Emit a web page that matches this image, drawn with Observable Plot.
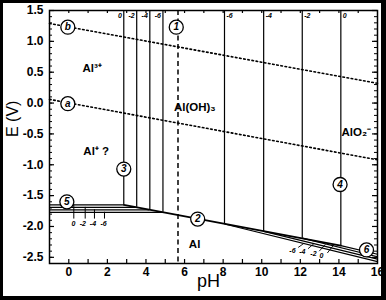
<!DOCTYPE html>
<html><head><meta charset="utf-8">
<script src="https://cdn.jsdelivr.net/npm/d3@7"></script>
<script src="https://cdn.jsdelivr.net/npm/@observablehq/plot@0.6"></script>
<style>
html,body{margin:0;padding:0;background:#fff;}
#wrap{position:relative;width:386px;height:300px;overflow:hidden;}
#wrap::after{content:"";position:absolute;left:0;top:0;right:0;bottom:0;box-sizing:border-box;border-style:solid;border-color:#000;border-width:3px 5px 4px 3px;pointer-events:none;}
svg{display:block;}
</style></head><body><div id="wrap"></div>
<script>
// axes
const pHDomain = [-1, 16];
const EDomain = [-2.6, 1.5];
const xTickValues = [0, 2, 4, 6, 8, 10, 12, 14, 16];
const yTickValues = [-2.5, -2.0, -1.5, -1.0, -0.5, 0.0, 0.5, 1.0, 1.5];
const xMinorValues = d3.range(0, 16, 1);
const yMinorValues = d3.range(-25, 16).map(d => d / 10);

// water stability lines (dotted)
const waterA = [{pH: -1, E: 0.06}, {pH: 16, E: -0.92}];
const waterB = [{pH: -1, E: 1.29}, {pH: 16, E: 0.32}];

// concentration-dependent boundaries (log c = 0, -2, -4, -6)
const concLabels = ["0", "-2", "-4", "-6"];
const al3BoundPH = [2.85, 3.52, 4.20, 4.88];      // Al3+ / Al(OH)3
const al3AlE = [-1.65, -1.69, -1.73, -1.77];      // Al3+ / Al
const alo2BoundPH = [14.10, 12.10, 10.10, 8.07];  // Al(OH)3 / AlO2-
const alo2BoundE = [-2.31, -2.19, -2.08, -1.96];  // lower end on Al line
const alo2EndE = [-2.45, -2.49, -2.53, -2.57];    // AlO2- / Al at pH 16
const alOH3AlLine = [{pH: 2.85, E: -1.65}, {pH: 14.10, E: -2.31}];
const neutralPH = 5.66;
const yTop = 1.5;

// small concentration labels
const topLabelE = 1.42;
const blLabelPH = [0.24, 0.73, 1.25, 1.80];
const blTickPH = [0.26, 0.85, 1.33, 1.85];
const blLabelE = -1.96;
const blTickEndE = -1.88;
const brLabels = ["-6", "-4", "-2", "0"];
const brLabelPH = [11.59, 12.10, 12.68, 13.10];
const brLabelE = [-2.39, -2.41, -2.45, -2.48];
const brLeadStartPH = [11.89, 12.40, 12.98, 13.40];
const brLeadStartE = [-2.34, -2.36, -2.40, -2.43];
const brLeadEndPH = [12.20, 12.70, 13.30, 13.75];
const brLeadEndE = [-2.27, -2.28, -2.29, -2.29];

// circled markers
const circleIds = ["b", "a", "1", "3", "5", "2", "4", "6"];
const circlePH = [-0.05, -0.05, 5.57, 2.85, -0.10, 6.68, 14.06, 15.43];
const circleE = [1.23, -0.01, 1.23, -1.07, -1.60, -1.88, -1.32, -2.38];

// species labels
const speciesNames = ["Al³⁺", "Al(OH)₃", "AlO₂⁻", "Al⁺ ?", "Al"];
const speciesPH = [1.21, 6.53, 14.90, 1.42, 6.52];
const speciesE = [0.56, -0.07, -0.47, -0.79, -2.29];

const al3Rows = concLabels.map((c, i) => ({c, pH: al3BoundPH[i], E: al3AlE[i]}));
const alo2Rows = concLabels.map((c, i) => ({c, pH: alo2BoundPH[i], E: alo2BoundE[i], Eend: alo2EndE[i]}));
const blRows = concLabels.map((c, i) => ({c, pH: blLabelPH[i], tpH: blTickPH[i], E0: al3AlE[i]}));
const brRows = brLabels.map((c, i) => ({c, pH: brLabelPH[i], E: brLabelE[i],
  x1: brLeadStartPH[i], y1: brLeadStartE[i], x2: brLeadEndPH[i], y2: brLeadEndE[i]}));
const circles = circleIds.map((id, i) => ({id, pH: circlePH[i], E: circleE[i]}));
const species = speciesNames.map((n, i) => ({n, pH: speciesPH[i], E: speciesE[i]}));

const PW = 386 - 49 - 9, PH = 300 - 10 - 37;
const small = {fontSize: 7, fontStyle: "italic", fontWeight: "bold"};

const chart = Plot.plot({
  width: 386, height: 300,
  marginLeft: 49, marginRight: 9, marginTop: 10, marginBottom: 37,
  x: {domain: pHDomain},
  y: {domain: EDomain},
  style: {fontFamily: "'Liberation Sans', Arial, sans-serif", background: "transparent", color: "#000"},
  marks: [
    // frame ticks (inward)
    Plot.tickY(yMinorValues, {y: d => d, insetRight: PW - 3, strokeWidth: 1}),
    Plot.tickY(yTickValues, {y: d => d, insetRight: PW - 5, strokeWidth: 1.2}),
    Plot.tickY(yMinorValues, {y: d => d, insetLeft: PW - 3, strokeWidth: 1}),
    Plot.tickY(yTickValues, {y: d => d, insetLeft: PW - 5, strokeWidth: 1.2}),
    Plot.tickX(xMinorValues, {x: d => d, insetTop: PH - 4, strokeWidth: 1.2}),
    Plot.tickX(xMinorValues, {x: d => d, insetBottom: PH - 3, strokeWidth: 1.2}),
    Plot.axisX(xTickValues, {tickSize: 0, tickPadding: 4, fontSize: 12, fontWeight: "bold", label: null}),
    Plot.axisY(yTickValues, {tickSize: 0, tickPadding: 6, fontSize: 12, fontWeight: "bold", label: null, tickFormat: d => d.toFixed(1)}),
    Plot.text(["E (V)"], {frameAnchor: "left", dx: -37, rotate: -90, fontSize: 16}),
    Plot.text(["pH"], {frameAnchor: "bottom", dx: -5, dy: 23, fontSize: 18}),
    // water lines
    Plot.line(waterB, {x: "pH", y: "E", strokeWidth: 1.6, strokeDasharray: "1.6,2.6"}),
    Plot.line(waterA, {x: "pH", y: "E", strokeWidth: 1.6, strokeDasharray: "1.6,2.6"}),
    // neutral dashed line
    Plot.ruleX([neutralPH], {strokeWidth: 1.5, strokeDasharray: "5,3.5"}),
    // Al3+/Al(OH)3 verticals
    Plot.ruleX(al3Rows, {x: "pH", y1: yTop, y2: "E", strokeWidth: 1.2}),
    // Al(OH)3/AlO2- verticals
    Plot.ruleX(alo2Rows, {x: "pH", y1: yTop, y2: "E", strokeWidth: 1.2}),
    // Al3+/Al horizontals
    Plot.ruleY(al3Rows, {y: "E", x1: pHDomain[0], x2: "pH", strokeWidth: 1.2}),
    // Al(OH)3/Al
    Plot.line(alOH3AlLine, {x: "pH", y: "E", strokeWidth: 1.8}),
    // AlO2-/Al
    Plot.link(alo2Rows, {x1: "pH", y1: "E", x2: pHDomain[1], y2: "Eend", strokeWidth: 1.2}),
    // frame
    Plot.frame({strokeWidth: 1.5}),
    // small labels top
    Plot.text(al3Rows, {x: "pH", y: topLabelE, text: "c", textAnchor: "end", dx: -2, ...small}),
    Plot.text(alo2Rows, {x: "pH", y: topLabelE, text: "c", textAnchor: "start", dx: 2, ...small}),
    // bottom-left labels with leader ticks
    Plot.ruleX(blRows, {x: "tpH", y1: "E0", y2: blTickEndE, strokeWidth: 1}),
    Plot.text(blRows, {x: "pH", y: blLabelE, text: "c", ...small}),
    // bottom-right labels with leaders
    Plot.link(brRows, {x1: "x1", y1: "y1", x2: "x2", y2: "y2", strokeWidth: 0.9}),
    Plot.text(brRows, {x: "pH", y: "E", text: "c", ...small}),
    // species
    Plot.text(species, {x: "pH", y: "E", text: "n", fontSize: 11.5, fontWeight: "bold"}),
    // circled markers
    Plot.dot(circles, {x: "pH", y: "E", r: 7, fill: "#fff", stroke: "#000", strokeWidth: 1.3}),
    Plot.text(circles, {x: "pH", y: "E", text: "id", fontSize: 10, fontStyle: "italic", fontWeight: "bold"})
  ]
});
document.getElementById("wrap").appendChild(chart);
</script></body></html>
